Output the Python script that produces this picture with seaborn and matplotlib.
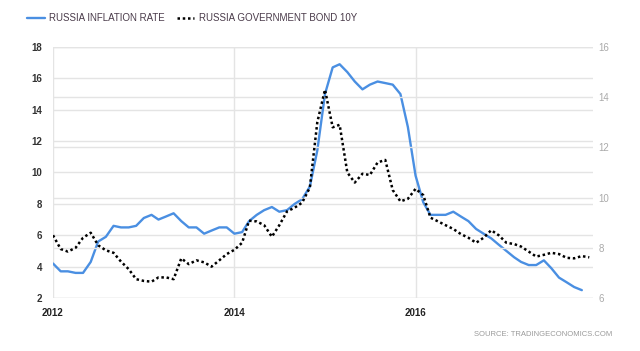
import matplotlib.pyplot as plt
import pandas as pd
import seaborn as sns

# monthly values, Jan 2012 onwards
inflation = [
    4.2, 3.7, 3.7, 3.6, 3.6, 4.3, 5.6, 5.9, 6.6, 6.5, 6.5, 6.6,
    7.1, 7.3, 7.0, 7.2, 7.4, 6.9, 6.5, 6.5, 6.1, 6.3, 6.5, 6.5,
    6.1, 6.2, 6.9, 7.3, 7.6, 7.8, 7.5, 7.6, 8.0, 8.3, 9.1, 11.4,
    15.0, 16.7, 16.9, 16.4, 15.8, 15.3, 15.6, 15.8, 15.7, 15.6, 15.0, 12.9,
    9.8, 8.1, 7.3, 7.3, 7.3, 7.5, 7.2, 6.9, 6.4, 6.1, 5.8, 5.4,
    5.0, 4.6, 4.3, 4.1, 4.1, 4.4, 3.9, 3.3, 3.0, 2.7, 2.5,
]
bond_10y = [
    8.5, 7.95, 7.85, 8.0, 8.4, 8.6, 8.1, 7.9, 7.8, 7.45, 7.15, 6.75,
    6.68, 6.65, 6.82, 6.82, 6.75, 7.58, 7.35, 7.5, 7.42, 7.25, 7.5, 7.75,
    7.92, 8.2, 9.08, 9.05, 8.9, 8.44, 8.9, 9.45, 9.6, 9.8, 10.4, 13.0,
    14.3, 12.8, 12.9, 11.0, 10.6, 10.95, 10.9, 11.4, 11.5, 10.3, 9.85, 9.95,
    10.35, 10.1, 9.2, 9.05, 8.9, 8.75, 8.55, 8.4, 8.2, 8.4, 8.7, 8.5,
    8.2, 8.15, 8.05, 7.85, 7.65, 7.72, 7.8, 7.75, 7.6, 7.58, 7.67, 7.62,
]
year_labels = ["2012", "2014", "2016"]
left_ticks = [2, 4, 6, 8, 10, 12, 14, 16, 18]
right_ticks = [6, 8, 10, 12, 14, 16]

df_inf = pd.DataFrame({"date": pd.date_range("2012-01-01", periods=len(inflation), freq="MS"),
                       "value": inflation})
df_bond = pd.DataFrame({"date": pd.date_range("2012-01-01", periods=len(bond_10y), freq="MS"),
                        "value": bond_10y})

sns.set_style("white")
plt.rcParams["font.family"] = ["Liberation Sans", "DejaVu Sans"]

fig = plt.figure(figsize=(6.4, 3.51), dpi=100)
ax = fig.add_axes([53 / 640, 1 - 298 / 351, 540 / 640, 251 / 351])
ax2 = ax.twinx()

sns.lineplot(df_inf, x="date", y="value", ax=ax, color="#4a8fe2", lw=1.7,
             label="RUSSIA INFLATION RATE")
sns.lineplot(df_bond, x="date", y="value", ax=ax2, color="black", lw=1.8,
             linestyle=(0, (1, 1.1)), label="RUSSIA GOVERNMENT BOND 10Y")

h1, l1 = ax.get_legend_handles_labels()
h2, l2 = ax2.get_legend_handles_labels()
for a in (ax, ax2):
    if a.get_legend():
        a.get_legend().remove()

ax.set_xlim(pd.Timestamp("2012-01-01"), pd.Timestamp("2017-12-16"))
ax.set_ylim(2, 18)
ax2.set_ylim(6, 16)
ax.set_xticks(pd.to_datetime([y + "-01-01" for y in year_labels]), year_labels)
ax.set_yticks(left_ticks, [str(t) for t in left_ticks])
ax2.set_yticks(right_ticks, [str(t) for t in right_ticks])

ax.grid(True, color="#e4e4e4", lw=1)
ax2.grid(True, axis="y", color="#e4e4e4", lw=1)
ax2.grid(False, axis="x")
ax.set_axisbelow(True)
ax2.set_axisbelow(True)

for a in (ax, ax2):
    for s in a.spines.values():
        s.set_visible(False)
    a.set_xlabel("")
    a.set_ylabel("")

ax.tick_params(axis="y", length=0, pad=8, labelsize=7, labelcolor="#333333")
ax.tick_params(axis="x", length=0, pad=7, labelsize=7, labelcolor="#222222")
ax2.tick_params(axis="y", length=0, pad=4, labelsize=7, labelcolor="#aaaaaa")
for lbl in ax.get_xticklabels() + ax.get_yticklabels():
    lbl.set_fontweight("bold")

fig.legend(h1 + h2, l1 + l2, loc="center left", bbox_to_anchor=(27 / 640, 1 - 18 / 351),
           ncol=2, frameon=False, fontsize=7.0, handlelength=1.8, handletextpad=0.5,
           columnspacing=1.2, borderpad=0, borderaxespad=0, labelcolor="#4a3b4a")

fig.text(612 / 640, 1 - 335 / 351, "SOURCE: TRADINGECONOMICS.COM", ha="right", va="center",
         fontsize=5.5, color="#9a9a9a")

fig.savefig("out.png", dpi=100)
